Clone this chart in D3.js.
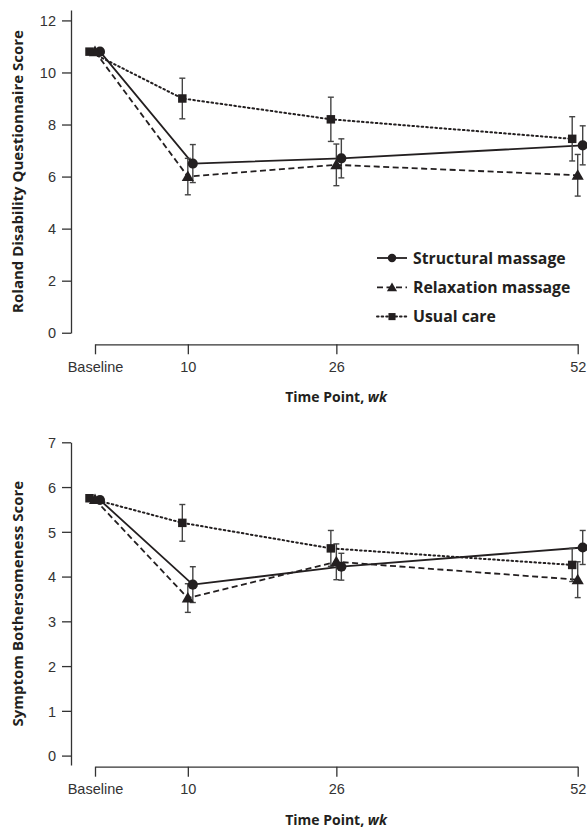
<!DOCTYPE html>
<html>
<head>
<meta charset="utf-8">
<script src="https://cdn.jsdelivr.net/npm/d3@7/dist/d3.min.js"></script>
<style>
  body { margin: 0; background: #fff; }
  svg { display: block; font-family: "Open Sans", "Noto Sans", sans-serif; }
  .tick text { fill: #333; font-size: 14.5px; }
  .axis path, .axis line { stroke: #333; stroke-width: 1.3; }
  .title { font-weight: bold; font-size: 14px; fill: #231f20; }
</style>
</head>
<body>
<svg id="chart"></svg>
<script>
// DATA
const weeks = [0, 10, 26, 52];
const weekLabels = ["Baseline", "10", "26", "52"];
const groups = ["Structural massage", "Relaxation massage", "Usual care"];

// Roland Disability Questionnaire
const rdqStructural = [10.8, 6.5, 6.7, 7.2];
const rdqStructuralErr = [0, 0.73, 0.75, 0.75];
const rdqRelaxation = [10.8, 6.0, 6.45, 6.05];
const rdqRelaxationErr = [0, 0.7, 0.8, 0.8];
const rdqUsual = [10.8, 9.0, 8.2, 7.45];
const rdqUsualErr = [0, 0.78, 0.85, 0.85];
const rdqTicks = [0, 2, 4, 6, 8, 10, 12];

// Symptom Bothersomeness
const sbsStructural = [5.71, 3.82, 4.22, 4.65];
const sbsStructuralErr = [0, 0.4, 0.3, 0.38];
const sbsRelaxation = [5.72, 3.52, 4.33, 3.93];
const sbsRelaxationErr = [0, 0.32, 0.4, 0.4];
const sbsUsual = [5.75, 5.2, 4.63, 4.26];
const sbsUsualErr = [0, 0.41, 0.4, 0.37];
const sbsTicks = [0, 1, 2, 3, 4, 5, 6, 7];

const width = 587;
const height = 828;
const ink = "#231f20";

// marker shape / line style / horizontal dodge per group
const styles = [
  { shape: d3.symbolCircle, size: 80, dash: null, dodge: 5 },
  { shape: d3.symbolTriangle, size: 64, dash: "6,3.5", dodge: 0 },
  { shape: d3.symbolSquare, size: 72, dash: "1.6,3", dodge: -5.5 }
];

const svg = d3.select("#chart")
  .attr("width", width)
  .attr("height", height);

const x = d3.scaleLinear().domain([0, 52]).range([95, 577.7]);

function drawPanel(p) {
  const y = d3.scaleLinear().domain(p.domain).range([p.yBottom, p.yTop]);
  const g = svg.append("g");

  // y axis
  g.append("g")
    .attr("class", "axis")
    .attr("transform", "translate(71,0)")
    .call(d3.axisLeft(y).tickValues(p.ticks).tickSize(9).tickSizeOuter(0).tickPadding(6))
    .call(a => a.selectAll(".tick text").attr("dy", "0.36em"));

  // x axis (detached)
  g.append("g")
    .attr("class", "axis")
    .attr("transform", `translate(0,${p.xAxisY})`)
    .call(d3.axisBottom(x).tickValues(weeks).tickFormat((d, i) => weekLabels[i]).tickSize(10).tickSizeOuter(0).tickPadding(7));

  // titles
  g.append("text")
    .attr("class", "title")
    .attr("x", 336).attr("y", p.xAxisY + 58)
    .attr("text-anchor", "middle")
    .html('Time Point, <tspan font-style="italic">wk</tspan>');

  g.append("text")
    .attr("class", "title")
    .style("font-size", "15px")
    .attr("transform", `translate(23,${(p.yTop + p.yBottom) / 2}) rotate(-90)`)
    .attr("text-anchor", "middle")
    .text(p.yTitle);

  const line = d3.line()
    .x(d => x(d.w) + d.dodge)
    .y(d => y(d.v));

  p.series.forEach((s, k) => {
    const st = styles[k];
    const pts = weeks.map((w, i) => ({ w: w, v: s.values[i], e: s.errs[i], dodge: st.dodge }));

    g.append("path")
      .datum(pts)
      .attr("d", line)
      .attr("fill", "none")
      .attr("stroke", ink)
      .attr("stroke-width", k == 2 ? 2 : 1.8)
      .attr("stroke-linecap", k == 2 ? "round" : "butt")
      .attr("stroke-dasharray", st.dash);

    const bars = g.append("g")
      .selectAll("g")
      .data(pts.filter(d => d.e > 0))
      .join("g")
      .attr("stroke", "#444")
      .attr("stroke-width", 1.4);

    bars.append("line")
      .attr("x1", d => x(d.w) + d.dodge).attr("x2", d => x(d.w) + d.dodge)
      .attr("y1", d => y(d.v - d.e)).attr("y2", d => y(d.v + d.e));
    bars.append("line")
      .attr("x1", d => x(d.w) + d.dodge - 3).attr("x2", d => x(d.w) + d.dodge + 3)
      .attr("y1", d => y(d.v + d.e)).attr("y2", d => y(d.v + d.e));
    bars.append("line")
      .attr("x1", d => x(d.w) + d.dodge - 3).attr("x2", d => x(d.w) + d.dodge + 3)
      .attr("y1", d => y(d.v - d.e)).attr("y2", d => y(d.v - d.e));
  });

  // markers on top
  p.series.forEach((s, k) => {
    const st = styles[k];
    g.append("g")
      .selectAll("path")
      .data(weeks.map((w, i) => ({ w: w, v: s.values[i] })))
      .join("path")
      .attr("d", d3.symbol().type(st.shape).size(st.size))
      .attr("transform", d => `translate(${x(d.w) + st.dodge},${y(d.v) + (k == 1 ? 1 : 0)})`)
      .attr("fill", ink);
  });
}

drawPanel({
  domain: [-0.01, 12.4], yTop: 10, yBottom: 333,
  ticks: rdqTicks, xAxisY: 344.3,
  yTitle: "Roland Disability Questionnaire Score",
  series: [
    { values: rdqStructural, errs: rdqStructuralErr },
    { values: rdqRelaxation, errs: rdqRelaxationErr },
    { values: rdqUsual, errs: rdqUsualErr }
  ]
});

drawPanel({
  domain: [-0.21, 7], yTop: 442.3, yBottom: 765,
  ticks: sbsTicks, xAxisY: 766.7,
  yTitle: "Symptom Bothersomeness Score",
  series: [
    { values: sbsStructural, errs: sbsStructuralErr },
    { values: sbsRelaxation, errs: sbsRelaxationErr },
    { values: sbsUsual, errs: sbsUsualErr }
  ]
});

// legend
const legend = svg.append("g").attr("transform", "translate(377,258)");
const rows = legend.selectAll("g")
  .data(groups)
  .join("g")
  .attr("transform", (d, i) => `translate(0,${i * 29.3})`);

rows.append("line")
  .attr("x1", 0).attr("x2", 30)
  .attr("stroke", ink)
  .attr("stroke-width", (d, i) => i == 2 ? 2 : 1.8)
  .attr("stroke-linecap", (d, i) => i == 2 ? "round" : "butt")
  .attr("stroke-dasharray", (d, i) => styles[i].dash);

rows.append("path")
  .attr("d", (d, i) => d3.symbol().type(styles[i].shape).size(styles[i].size * 0.7)())
  .attr("transform", (d, i) => `translate(15,${i == 1 ? 1 : 0})`)
  .attr("fill", ink);

rows.append("text")
  .attr("x", 36).attr("dy", "0.35em")
  .attr("font-size", 15.8)
  .attr("font-weight", "bold")
  .attr("fill", ink)
  .text(d => d);
</script>
</body>
</html>
